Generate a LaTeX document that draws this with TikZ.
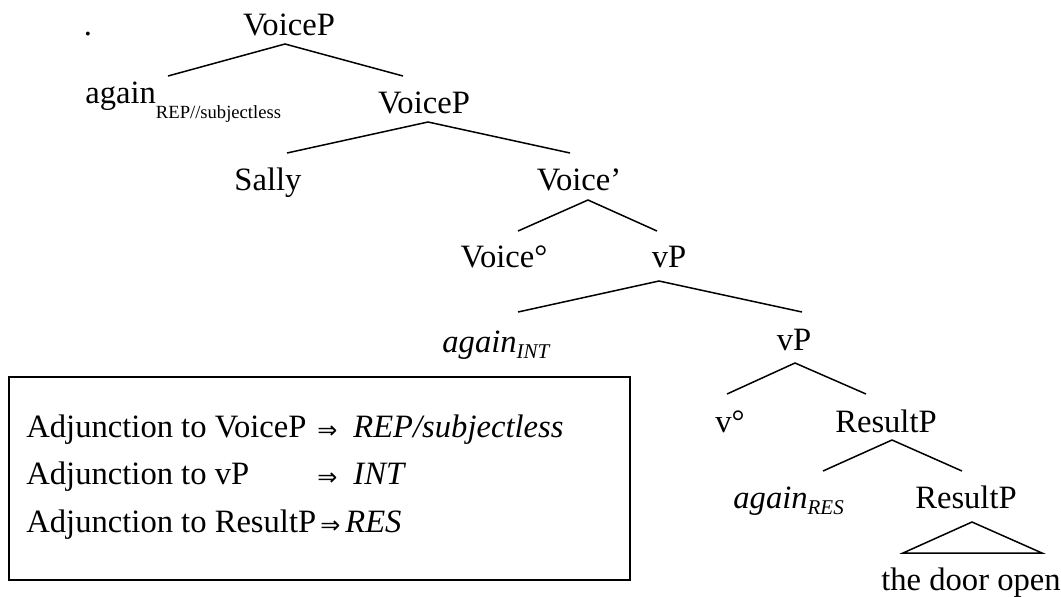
\documentclass[tikz,border=0pt]{standalone}
\usepackage{fontspec}
\setmainfont{Liberation Serif}
\newfontfamily\arrowfont{DejaVu Sans}
\usetikzlibrary{calc}
% lowered subscript: #1 = drop (pt), #2 = size (pt), #3 = text
\newcommand\subtxt[3]{\raisebox{-#1pt}{\fontsize{#2}{#2}\selectfont #3}}
\newcommand\impl{\raisebox{-0.6pt}{\arrowfont\fontsize{12}{12}\selectfont ⇒}}
\begin{document}
\begin{tikzpicture}[x=0.5pt, y=-0.5pt,
  font=\fontsize{16.3}{19}\selectfont,
  lbl/.style={inner sep=0pt, anchor=base},
  lblw/.style={inner sep=0pt, anchor=base west},
  branch/.style={line width=0.75pt, line join=miter},
  legendbox/.style={draw, line width=1pt, inner sep=0pt}]
\useasboundingbox (0,0) rectangle (1061,596);

% tree labels
\node[lbl]  (dot)   at (88,35)   {.};
\node[lbl]  (vp1)   at (289,35)  {VoiceP};
\node[lblw] (agREP) at (85,103)  {again\subtxt{7.5}{9.3}{REP//subjectless}};
\node[lbl]  (vp2)   at (424,113) {VoiceP};
\node[lbl]  (sally) at (268,190) {Sally};
\node[lbl]  (vbar)  at (579,190) {Voice’};
\node[lbl]  (vhd)   at (504,267) {Voice°};
\node[lbl]  (vP1)   at (669,267) {vP};
\node[lblw] (agINT) at (442,352) {\itshape again\subtxt{3}{10.5}{INT}};
\node[lbl]  (vP2)   at (794,350) {vP};
\node[lbl]  (vsm)   at (730,432) {v°};
\node[lbl]  (resP1) at (886,432) {ResultP};
\node[lblw] (agRES) at (733,508) {\itshape again\subtxt{3}{10.5}{RES}};
\node[lbl]  (resP2) at (966,508) {ResultP};
\node[lbl]  (door)  at (971,590) {the door open};

% branches
\draw[branch] ($(agREP.base west)+(83,-27)$) -- ($(vp1.base)+(-4,9)$) -- ($(vp2.base)+(-21,-37)$);
\draw[branch] ($(sally.base)+(19,-37)$) -- ($(vp2.base)+(4,9)$) -- ($(vbar.base)+(-9,-37)$);
\draw[branch] ($(vhd.base)+(14,-36)$) -- ($(vbar.base)+(9,10)$) -- ($(vP1.base)+(-12,-36)$);
\draw[branch] ($(agINT.base west)+(76,-40)$) -- ($(vP1.base)+(-10,14)$) -- ($(vP2.base)+(8,-38)$);
\draw[branch] ($(vsm.base)+(-3,-38)$) -- ($(vP2.base)+(1,13)$) -- ($(resP1.base)+(-20,-38)$);
\draw[branch] ($(agRES.base west)+(90,-37)$) -- ($(resP1.base)+(6,8)$) -- ($(resP2.base)+(-4,-37)$);
\draw[branch] ($(resP2.base)+(6,14)$) -- ($(door.base)+(-68,-37)$) -- ($(door.base)+(71,-37)$) -- cycle;

% legend
\node[legendbox, minimum width=310.5pt, minimum height=101.5pt] (legend) at (319.5,478.5) {};
\node[lblw] (r1a) at (26,437)  {Adjunction to VoiceP};
\node[lblw] (r1b) at (317,437) {\impl};
\node[lblw] (r1c) at (353,437) {\itshape REP/subjectless};
\node[lblw] (r2a) at (26,484)  {Adjunction to vP};
\node[lblw] (r2b) at (317,484) {\impl};
\node[lblw] (r2c) at (353,484) {\itshape INT};
\node[lblw] (r3a) at (26,532)  {Adjunction to ResultP};
\node[lblw] (r3b) at (320,532) {\impl};
\node[lblw] (r3c) at (345,532) {\itshape RES};
\end{tikzpicture}
\end{document}
